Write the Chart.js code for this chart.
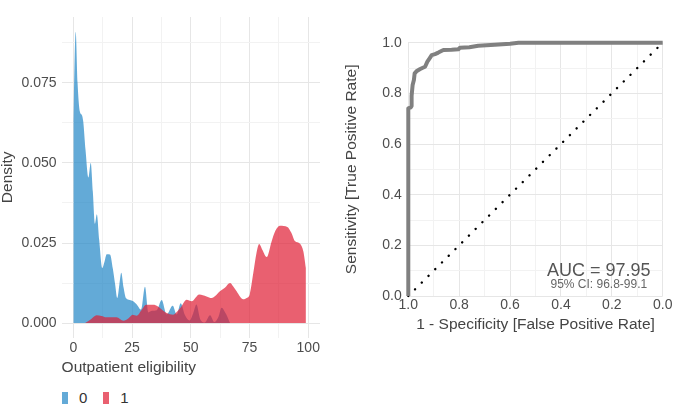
<!DOCTYPE html>
<html>
<head>
<meta charset="utf-8">
<script src="https://cdn.jsdelivr.net/npm/chart.js@4/dist/chart.umd.min.js"></script>
<style>
  body { margin: 0; background: #fff; width: 677px; height: 404px; overflow: hidden; position: relative; font-family: "Liberation Sans", Arial, sans-serif; }
  #densityWrap { position: absolute; left: 0; top: 0; width: 340px; height: 382px; }
  #rocWrap { position: absolute; left: 340px; top: 0; width: 337px; height: 340px; }
  #legend { position: absolute; left: 62px; top: 389px; height: 16px; font-size: 15px; color: #333; }
  #legend span.box { display: inline-block; width: 6px; height: 12px; vertical-align: -1px; }
  #legend span.lab { display: inline-block; margin-left: 11px; margin-right: 16px; }
</style>
</head>
<body>
<div id="densityWrap"><canvas id="densityChart"></canvas></div>
<div id="rocWrap"><canvas id="rocChart"></canvas></div>
<div id="legend"></div>
<script>
// outpatient eligibility density, group 0
var blueX = [0, 1.0, 1.8, 2.8, 3.6, 4.2, 5.2, 6.4, 7.4, 8.3, 9.2, 10.0, 11.0, 12.3, 13.2, 14.2, 15.6, 16.8, 17.8, 18.7, 19.6, 20.4, 21.4, 22.4, 24.0, 25.5, 27.0, 28.8, 30.5, 31.9, 33.5, 35.5, 37.6, 39.7, 42.3, 44.0, 45.7, 47.5, 49.5, 51.0, 52.4, 54.0, 56.0, 58.2, 60.0, 61.8, 63.1, 65.0, 66.7]
var blueY = [0.062, 0.091, 0.075, 0.066, 0.065, 0.063, 0.054, 0.0455, 0.050, 0.041, 0.031, 0.034, 0.026, 0.0172, 0.019, 0.0215, 0.0214, 0.017, 0.012, 0.0078, 0.012, 0.0157, 0.011, 0.0078, 0.0072, 0.0068, 0.0058, 0.0042, 0.0113, 0.0033, 0.0038, 0.0040, 0.0072, 0.0027, 0.0054, 0.0027, 0.0062, 0.0025, 0.0008, 0.003, 0.0058, 0.0012, 0.0002, 0.0024, 0.0003, 0.002, 0.0048, 0.0028, 0]
// group 1
var redX = [5.0, 7.5, 9.9, 12, 14, 18.4, 21.3, 23.5, 25.2, 27, 29, 31, 34, 36, 38, 39.7, 42.5, 44.5, 46, 48.2, 50.4, 53.6, 56.7, 58.9, 60.5, 62.4, 64.5, 66.7, 68, 69.5, 71, 72.3, 73.8, 75.1, 76.6, 78, 79.1, 80.5, 82.3, 84.4, 86, 88, 91.1, 92.8, 94.3, 96.5, 97.9, 99.0]
var redY = [0, 0.0012, 0.0024, 0.0022, 0.0018, 0.0018, 0.0007, 0.0015, 0.0026, 0.0023, 0.004, 0.0057, 0.0057, 0.0052, 0.004, 0.0031, 0.0026, 0.0038, 0.0052, 0.0073, 0.0068, 0.0089, 0.0083, 0.0078, 0.0085, 0.0099, 0.011, 0.0125, 0.0115, 0.0099, 0.0082, 0.0074, 0.0078, 0.009, 0.0156, 0.022, 0.0247, 0.0228, 0.0206, 0.0255, 0.0288, 0.0304, 0.0300, 0.0282, 0.0256, 0.0248, 0.0224, 0.0172]
var groupLabels = ['0', '1']
var groupColors = ['rgba(33,134,198,0.7)', 'rgba(224,28,51,0.7)']

var densXTicks = [0, 12.5, 25, 37.5, 50, 62.5, 75, 87.5, 100]
var densYTicks = [0, 0.0125, 0.025, 0.0375, 0.05, 0.0625, 0.075, 0.0875]

// ROC curve
var rocSpec = [1.0, 1.0, 0.99, 0.987, 0.987, 0.983, 0.978, 0.975, 0.968, 0.955, 0.945, 0.934, 0.925, 0.915, 0.908, 0.895, 0.882, 0.862, 0.83, 0.803, 0.797, 0.76, 0.725, 0.66, 0.6, 0.567, 0.0]
var rocSens = [0.0, 0.741, 0.745, 0.75, 0.79, 0.833, 0.853, 0.879, 0.887, 0.895, 0.9, 0.905, 0.925, 0.94, 0.951, 0.955, 0.961, 0.971, 0.972, 0.974, 0.98, 0.982, 0.988, 0.992, 0.996, 1.0, 1.0]
var diagSpec = [1, 0]
var diagSens = [0, 1]
var rocTicks = [0, 0.1, 0.2, 0.3, 0.4, 0.5, 0.6, 0.7, 0.8, 0.9, 1.0]
var aucText = 'AUC = 97.95'
var ciText = '95% CI: 96.8-99.1'

var font = '"Liberation Sans", Arial, sans-serif'
var tickColor = '#4d4d4d'
var titleColor = '#444'

function pairs(xs, ys) {
    var out = []
    for (var i = 0; i < xs.length; i++) {
        out.push({x: xs[i], y: ys[i]})
    }
    return out
}

function gridColor(major) {
    return function(ctx) {
        return major(ctx.tick.value) ? '#e6e6e6' : '#f2f2f2'
    }
}

// density chart
var densData = {
    datasets: [{
        label: groupLabels[1],
        data: pairs(redX, redY),
        backgroundColor: groupColors[1],
        borderWidth: 0,
        fill: 'origin',
        pointRadius: 0,
        cubicInterpolationMode: 'monotone',
        order: 0
    }, {
        label: groupLabels[0],
        data: pairs(blueX, blueY),
        backgroundColor: groupColors[0],
        borderWidth: 0,
        fill: 'origin',
        pointRadius: 0,
        cubicInterpolationMode: 'monotone',
        order: 1
    }]
}

var densChart = new Chart(document.getElementById('densityChart'), {
    type: 'line',
    data: densData,
    options: {
        responsive: true,
        maintainAspectRatio: false,
        animation: false,
        layout: {padding: {left: 0, right: 20, top: 17, bottom: 0}},
        plugins: {legend: {display: false}, tooltip: {enabled: false}},
        scales: {
            x: {
                type: 'linear',
                min: -5,
                max: 105,
                afterBuildTicks: function(scale) {
                    scale.ticks = densXTicks.map(function(v) { return {value: v} })
                },
                afterFit: function(scale) { scale.height = 382 - 337.6 },
                ticks: {
                    autoSkip: false,
                    maxRotation: 0,
                    padding: 2,
                    color: tickColor,
                    font: {family: font, size: 14},
                    callback: function(v) { return v % 25 === 0 ? String(v) : '' }
                },
                grid: {color: gridColor(function(v) { return v % 25 === 0 }), drawTicks: false},
                border: {display: false},
                title: {
                    display: true,
                    text: 'Outpatient eligibility',
                    align: 'start',
                    color: titleColor,
                    font: {family: font, size: 15.5},
                    padding: {top: 0, bottom: 4.7}
                }
            },
            y: {
                min: -0.00455,
                max: 0.0956,
                afterBuildTicks: function(scale) {
                    scale.ticks = densYTicks.map(function(v) { return {value: v} })
                },
                afterFit: function(scale) { scale.width = 61.6 },
                ticks: {
                    autoSkip: false,
                    padding: 5,
                    color: tickColor,
                    font: {family: font, size: 14},
                    callback: function(v) {
                        var k = Math.round(v / 0.0125)
                        return k % 2 === 0 ? v.toFixed(3) : ''
                    }
                },
                grid: {color: gridColor(function(v) { return Math.round(v / 0.0125) % 2 === 0 }), drawTicks: false},
                border: {display: false},
                title: {
                    display: true,
                    text: 'Density',
                    color: titleColor,
                    font: {family: font, size: 15.5, lineHeight: 1.05},
                    padding: {top: 0, bottom: 0}
                }
            }
        }
    }
})

// legend from the group labels
var legendHtml = ''
for (var g = 0; g < groupLabels.length; g++) {
    legendHtml += '<span class="box" style="background:' + groupColors[g] + '"></span><span class="lab">' + groupLabels[g] + '</span>'
}
document.getElementById('legend').innerHTML = legendHtml

// text inside the roc plot
var aucPlugin = {
    id: 'aucText',
    afterDatasetsDraw: function(chart) {
        var ctx = chart.ctx
        var xs = chart.scales.x
        var ys = chart.scales.y
        ctx.save()
        ctx.textAlign = 'center'
        ctx.textBaseline = 'middle'
        ctx.fillStyle = '#555'
        ctx.font = '18px ' + font
        ctx.fillText(aucText, xs.getPixelForValue(0.251), ys.getPixelForValue(0.1))
        ctx.fillStyle = '#666'
        ctx.font = '12px ' + font
        ctx.fillText(ciText, xs.getPixelForValue(0.251), ys.getPixelForValue(0.043))
        ctx.restore()
    }
}

var rocChart = new Chart(document.getElementById('rocChart'), {
    type: 'scatter',
    data: {
        datasets: [{
            label: 'ROC',
            data: pairs(rocSpec, rocSens),
            showLine: true,
            borderColor: '#808080',
            borderWidth: 4,
            borderJoinStyle: 'round',
            pointRadius: 0,
            clip: 6,
            order: 0
        }, {
            label: 'chance',
            data: pairs(diagSpec, diagSens),
            showLine: true,
            borderColor: '#000',
            borderWidth: 2.4,
            borderDash: [0.1, 9.4],
            borderCapStyle: 'round',
            pointRadius: 0,
            clip: 4,
            order: 1
        }]
    },
    options: {
        responsive: true,
        maintainAspectRatio: false,
        animation: false,
        layout: {padding: {left: 0, right: 14.3, top: 42.7, bottom: 1.7}},
        plugins: {legend: {display: false}, tooltip: {enabled: false}},
        scales: {
            x: {
                type: 'linear',
                min: 0,
                max: 1,
                reverse: true,
                afterBuildTicks: function(scale) {
                    scale.ticks = rocTicks.map(function(v) { return {value: v} })
                },
                afterFit: function(scale) { scale.height = 340 - 1.7 - 296 },
                ticks: {
                    autoSkip: false,
                    maxRotation: 0,
                    padding: 1,
                    color: tickColor,
                    font: {family: font, size: 14},
                    callback: function(v) { return Math.round(v * 10) % 2 === 0 ? v.toFixed(1) : '' }
                },
                grid: {color: gridColor(function(v) { return Math.round(v * 10) % 2 === 0 }), drawTicks: false},
                border: {display: false},
                title: {
                    display: true,
                    text: '1 - Specificity [False Positive Rate]',
                    align: 'center',
                    color: titleColor,
                    font: {family: font, size: 15.5},
                    padding: {top: 0, bottom: 4}
                }
            },
            y: {
                min: 0,
                max: 1,
                afterBuildTicks: function(scale) {
                    scale.ticks = rocTicks.map(function(v) { return {value: v} })
                },
                afterFit: function(scale) { scale.width = 68.3 },
                ticks: {
                    autoSkip: false,
                    padding: 6.6,
                    color: tickColor,
                    font: {family: font, size: 14},
                    callback: function(v) { return Math.round(v * 10) % 2 === 0 ? v.toFixed(1) : '' }
                },
                grid: {color: gridColor(function(v) { return Math.round(v * 10) % 2 === 0 }), drawTicks: false},
                border: {display: false},
                title: {
                    display: true,
                    text: 'Sensitivity [True Positive Rate]',
                    color: titleColor,
                    font: {family: font, size: 15.5},
                    padding: {top: 2.7, bottom: 0}
                }
            }
        }
    },
    plugins: [aucPlugin]
})
</script>
</body>
</html>
